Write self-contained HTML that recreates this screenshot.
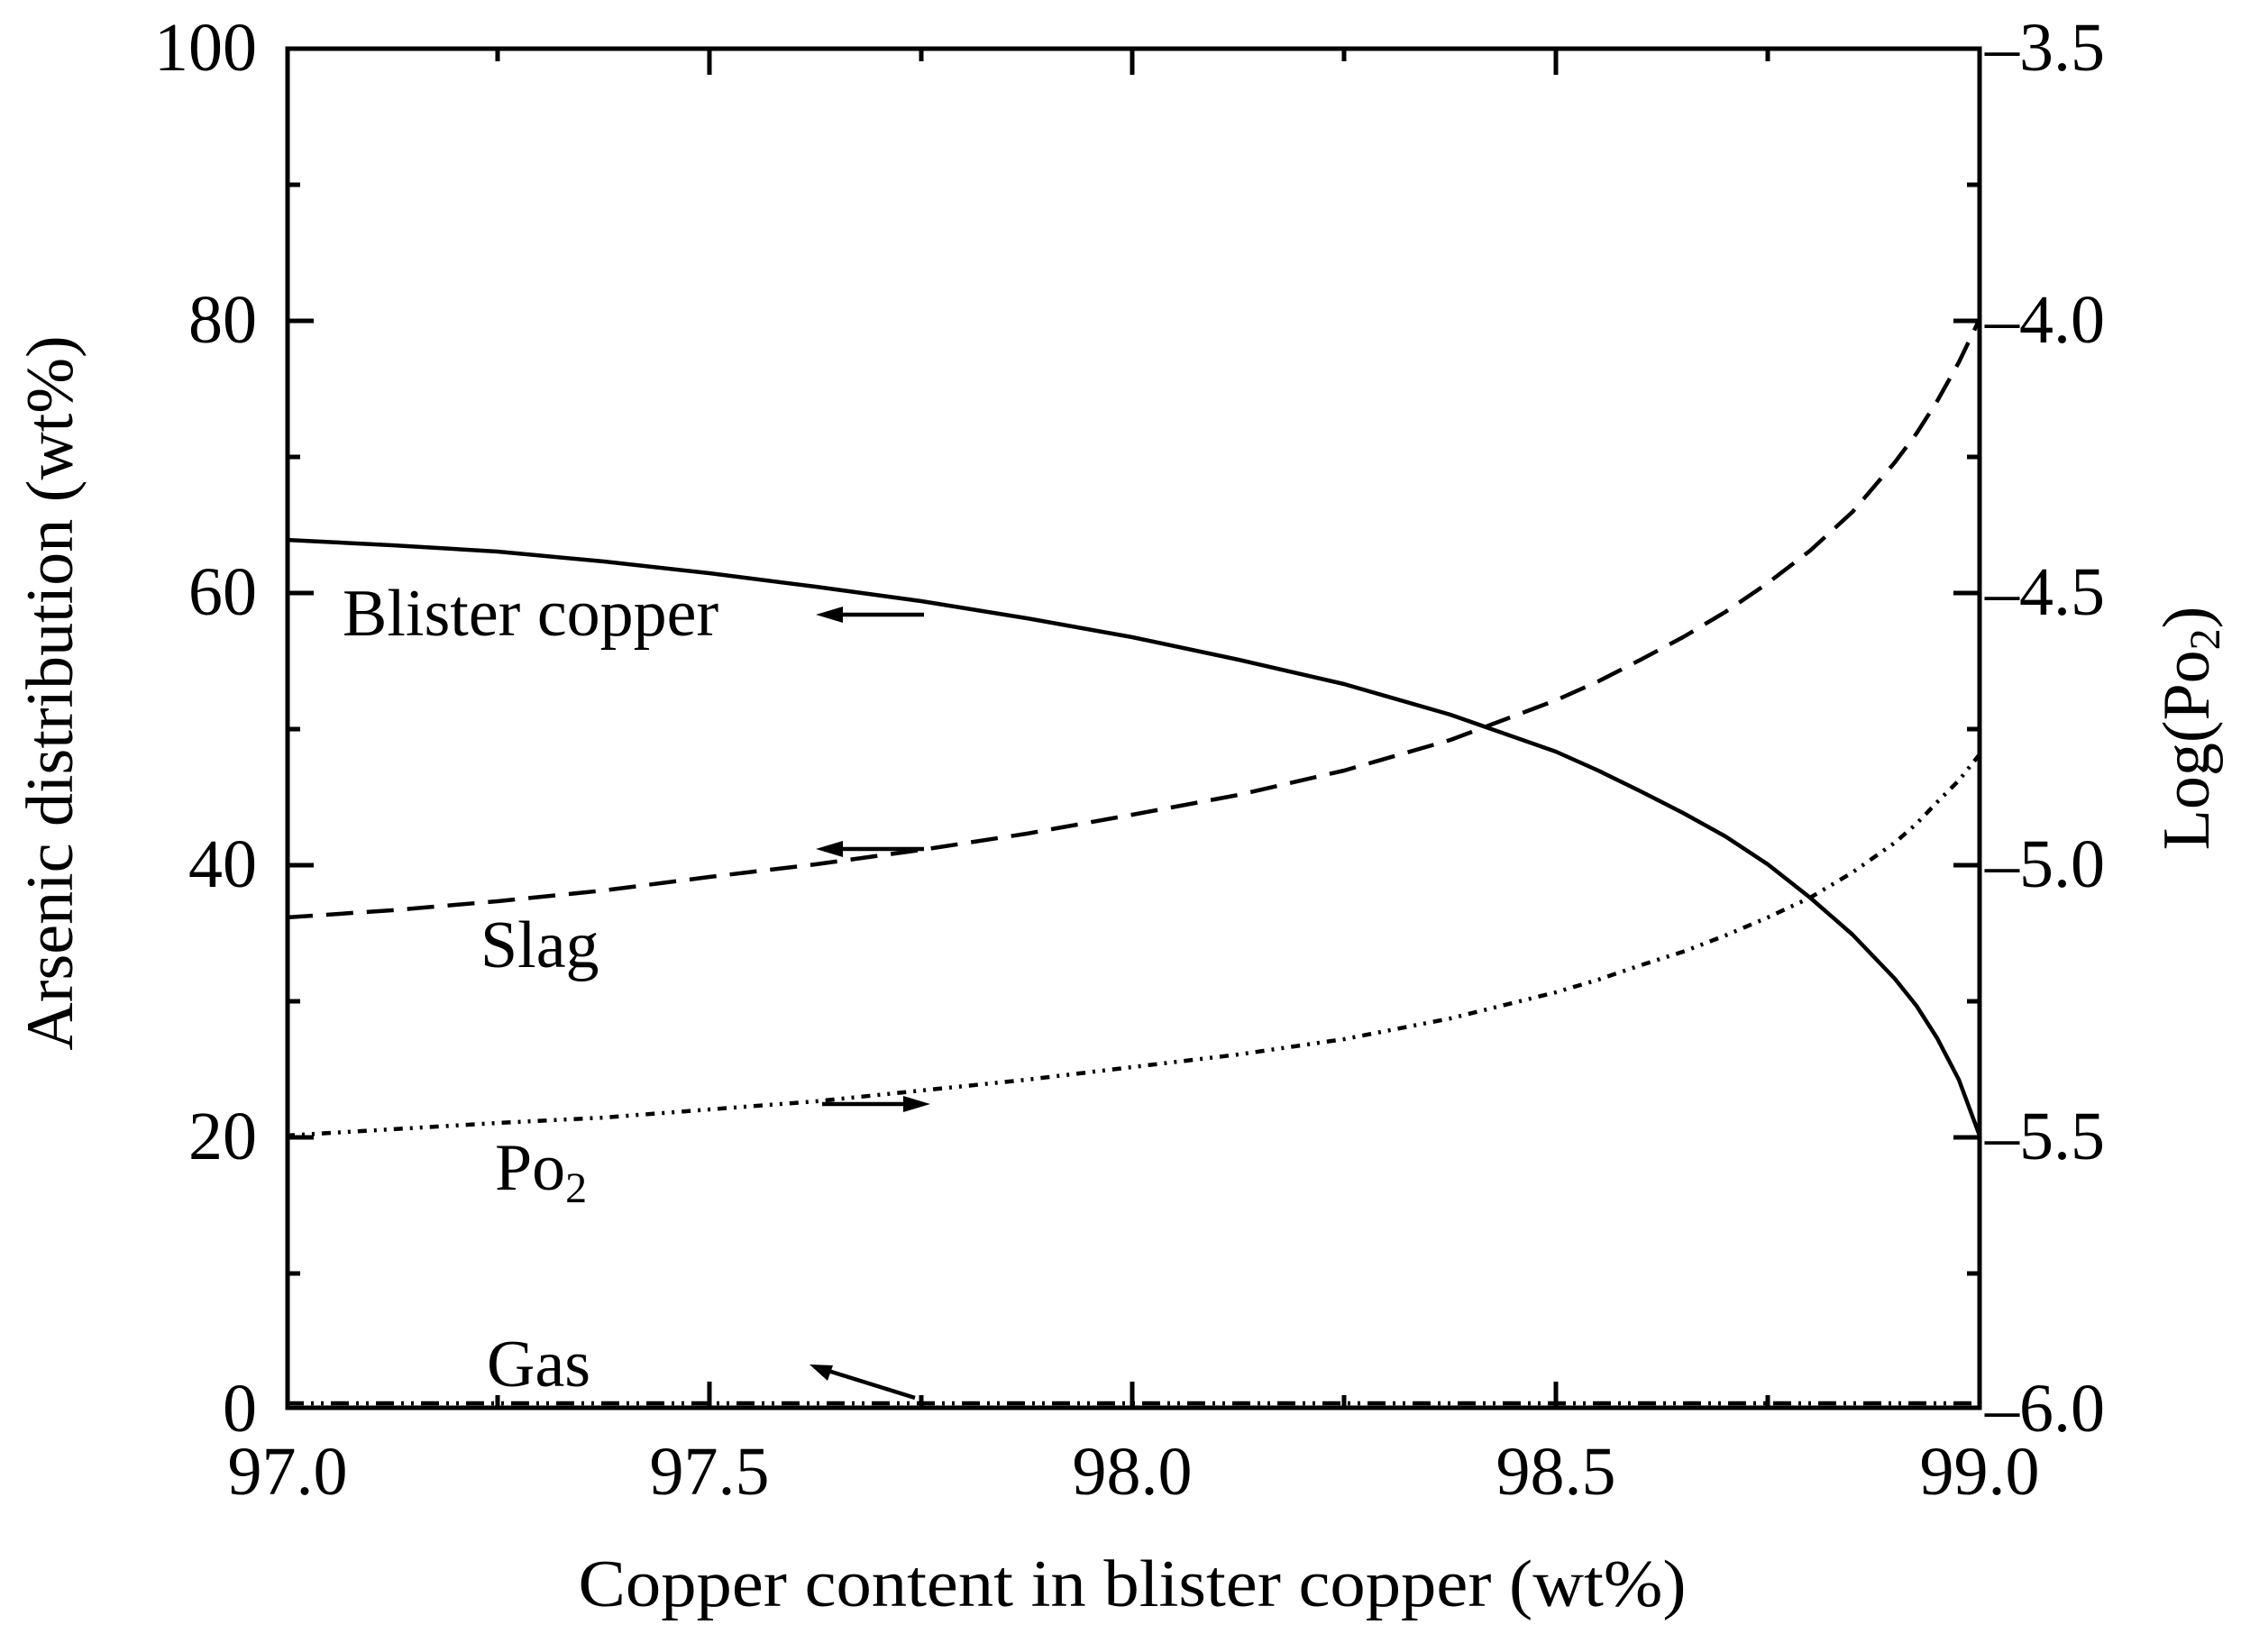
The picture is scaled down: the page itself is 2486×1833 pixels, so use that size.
<!DOCTYPE html>
<html><head><style>html,body{margin:0;padding:0;background:#fff}svg{display:block}text{font-family:"Liberation Serif","Times New Roman",serif}</style></head>
<body>
<svg width="2486" height="1833" viewBox="0 0 2486 1833" xmlns="http://www.w3.org/2000/svg" fill="#000">
<g stroke="#000" stroke-width="5" fill="none">
<rect x="319" y="54" width="1877" height="1508"/>
<path d="M319 356h29M319 658h29M319 960h29M319 1262h29M2196 356h-29M2196 658h-29M2196 960h-29M2196 1262h-29"/>
<path d="M319 205h14M319 507h14M319 809h14M319 1111h14M319 1413h14M2196 205h-14M2196 507h-14M2196 809h-14M2196 1111h-14M2196 1413h-14"/>
<path d="M787 1562v-29M1256 1562v-29M1726 1562v-29M787 54v29M1256 54v29M1726 54v29"/>
<path d="M552 1562v-14M1022 1562v-14M1491 1562v-14M1961 1562v-14M552 54v14M1022 54v14M1491 54v14M1961 54v14"/>
</g>
<g fill="none" stroke="#000" stroke-width="4.5" stroke-linejoin="round">
<polyline points="317,599 435,605 552,612 670,623 787,636 905,651 1022,667 1139,686 1256,707 1374,732 1491,759 1609,793 1726,834 1773,855 1820,878 1867,902 1914,928 1961,959 2008,996 2055,1037 2102,1086 2126,1116 2149,1152 2173,1198 2196,1260"/>
<polyline stroke-dasharray="30,15" points="317,1018 435,1010 552,1000 670,988 787,973 905,959 1022,943 1139,925 1256,904 1374,882 1491,855 1609,821 1726,777 1773,756 1820,732 1867,707 1914,679 1961,647 2008,611 2055,568 2102,513 2126,481 2149,445 2173,402 2196,354"/>
<polyline stroke-dasharray="10,8,3,8,3,8" points="317,1260 435,1253 552,1246 670,1240 787,1231 905,1222 1022,1210 1139,1198 1256,1184 1374,1170 1491,1153 1609,1130 1726,1101 1773,1087 1820,1071 1867,1056 1914,1038 1961,1018 2008,996 2055,968 2102,935 2126,914 2149,890 2173,866 2196,837"/>
<polyline stroke-dasharray="20,8,3,8,3,8" points="317,1557 2196,1557"/>
<path d="M1025 682H915M1025 942H915M912 1225H1022M1015 1551L906 1517"/>
</g>
<g>
<polygon points="905,682 935,673 935,691"/>
<polygon points="905,942 935,933 935,951"/>
<polygon points="1032,1225 1002,1216 1002,1234"/>
<polygon points="898,1514 924,1515 918,1532"/>
</g>
<g font-size="76" text-anchor="end">
<text x="285" y="78">100</text><text x="285" y="380">80</text><text x="285" y="682">60</text>
<text x="285" y="984">40</text><text x="285" y="1286">20</text><text x="285" y="1588">0</text>
</g>
<g font-size="76">
<text x="2202" y="78">–3.5</text><text x="2202" y="380">–4.0</text><text x="2202" y="682">–4.5</text>
<text x="2202" y="984">–5.0</text><text x="2202" y="1286">–5.5</text><text x="2202" y="1588">–6.0</text>
</g>
<g font-size="76" text-anchor="middle">
<text x="319" y="1658">97.0</text><text x="787" y="1658">97.5</text><text x="1256" y="1658">98.0</text>
<text x="1726" y="1658">98.5</text><text x="2196" y="1658">99.0</text>
</g>
<text x="1256" y="1782" font-size="74" text-anchor="middle" textLength="1229" lengthAdjust="spacingAndGlyphs">Copper content in blister copper (wt%)</text>
<text transform="translate(80,769) rotate(-90)" font-size="74" text-anchor="middle">Arsenic distribution (wt%)</text>
<text transform="translate(2450,808) rotate(-90)" font-size="74" text-anchor="middle">Log(Po<tspan font-size="48" dy="12">2</tspan><tspan dy="-12">)</tspan></text>
<g font-size="74">
<text x="380" y="705">Blister copper</text>
<text x="533" y="1073">Slag</text>
<text x="549" y="1320">Po<tspan font-size="48" dy="14">2</tspan></text>
<text x="540" y="1538">Gas</text>
</g>
</svg>
</body></html>
